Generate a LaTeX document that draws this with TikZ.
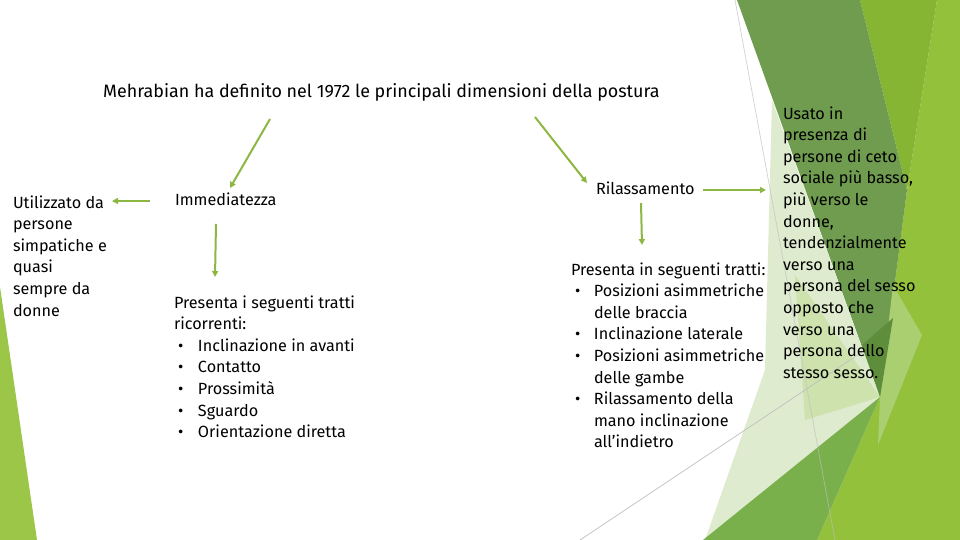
\documentclass[tikz,border=0pt]{standalone}
\usepackage{fontspec}
\setmainfont{Fira Sans}
\usetikzlibrary{arrows.meta}
\definecolor{arrowgreen}{RGB}{141,183,67}
\definecolor{cbright}{HTML}{93C13C}
\definecolor{colive}{HTML}{86B433}
\definecolor{cdark}{HTML}{6F9C4F}
\definecolor{cpale}{HTML}{DFEBCF}
\definecolor{clight}{HTML}{CDE2AD}
\definecolor{cmed}{HTML}{7AB04C}
\definecolor{clt}{HTML}{AACF70}
\definecolor{cdarker}{HTML}{5E8E3C}
\definecolor{cleft}{HTML}{9BC647}
\definecolor{cline}{HTML}{BFBFBF}
\tikzset{
  body/.style={font=\fontsize{16.2}{21.6}\selectfont, align=left, anchor=base west, inner sep=0pt, outer sep=0pt},
  titletext/.style={font=\fontsize{17.9}{20}\selectfont, anchor=base west, inner sep=0pt},
  conn/.style={draw=arrowgreen, line width=2pt, -{Triangle[length=6pt,width=6pt]}},
  thinline/.style={draw=cline, line width=0.7pt},
}
\newcommand{\bul}[1]{\hspace*{4pt}\makebox[#1][l]{•}}
\begin{document}
\begin{tikzpicture}[x=1pt,y=-1pt]
\useasboundingbox (0,0) rectangle (960,540);
\fill[white] (0,0) rectangle (960,540);
% decorative shapes
\fill[cleft] (0,287) -- (37,540) -- (0,540) -- cycle;
\fill[cbright] (937,0) -- (960,0) -- (960,540) -- (817,540) -- (880,397) -- (907,190) -- cycle;
\fill[colive] (860,0) -- (937,0) -- (907,190) -- cycle;
\fill[cdark] (737,0) -- (860,0) -- (907,190) -- (880,397) -- cycle;
\fill[cpale] (772,100) -- (880,397) -- (705,540) -- (765,370) -- cycle;
\fill[clight] (795,275) -- (880,397) -- (805,420) -- cycle;
\draw[thinline] (580,540) -- (862,352);
\fill[cmed] (703,540) -- (880,397) -- (817,540) -- cycle;
\fill[clt] (893,285) -- (922,335) -- (878,445) -- (880,397) -- cycle;
\fill[cdarker] (862,345) -- (893,318) -- (880,397) -- cycle;
\draw[thinline, opacity=0.7] (735,0) -- (835,540);
% texts (base anchor = baseline of the last line)
\node[titletext] (title) at (103,98) {Mehrabian ha definito nel 1972 le principali dimensioni della postura};
\node[body] (util) at (13,316) {Utilizzato da\\persone\\simpatiche e\\quasi\\sempre da\\donne};
\node[body] (imm) at (175,205) {Immediatezza};
\node[body] (immlist) at (174,437.6) {Presenta i seguenti tratti\\ricorrenti:\\\bul{20pt}Inclinazione in avanti\\\bul{20pt}Contatto\\\bul{20pt}Prossimità\\\bul{20pt}Sguardo\\\bul{20pt}Orientazione diretta};
\node[body] (ril) at (596,194) {Rilassamento};
\node[body] (rillist) at (571,447.8) {Presenta in seguenti tratti:\\\bul{19pt}Posizioni asimmetriche\\\hspace*{23pt}delle braccia\\\bul{19pt}Inclinazione laterale\\\bul{19pt}Posizioni asimmetriche\\\hspace*{23pt}delle gambe\\\bul{19pt}Rilassamento della\\\hspace*{23pt}mano inclinazione\\\hspace*{23pt}all’indietro};
\node[body] (usato) at (783,378.2) {Usato in\\presenza di\\persone di ceto\\sociale più basso,\\più verso le\\donne,\\tendenzialmente\\verso una\\persona del sesso\\opposto che\\verso una\\persona dello\\stesso sesso.};
% connector end points
\coordinate (t1) at (270,119); \coordinate (i1) at (230,188);
\coordinate (i2) at (150,201); \coordinate (u1) at (112,201);
\coordinate (i3) at (216,224); \coordinate (l1) at (215,277);
\coordinate (t2) at (535,117); \coordinate (r1) at (587,183);
\coordinate (r2) at (641,203); \coordinate (l2) at (642,245);
\coordinate (r3) at (703,190); \coordinate (s1) at (766,190);
\draw[conn] (t1) -- (i1);
\draw[conn] (i2) -- (u1);
\draw[conn] (i3) -- (l1);
\draw[conn] (t2) -- (r1);
\draw[conn] (r2) -- (l2);
\draw[conn] (r3) -- (s1);
\end{tikzpicture}
\end{document}
